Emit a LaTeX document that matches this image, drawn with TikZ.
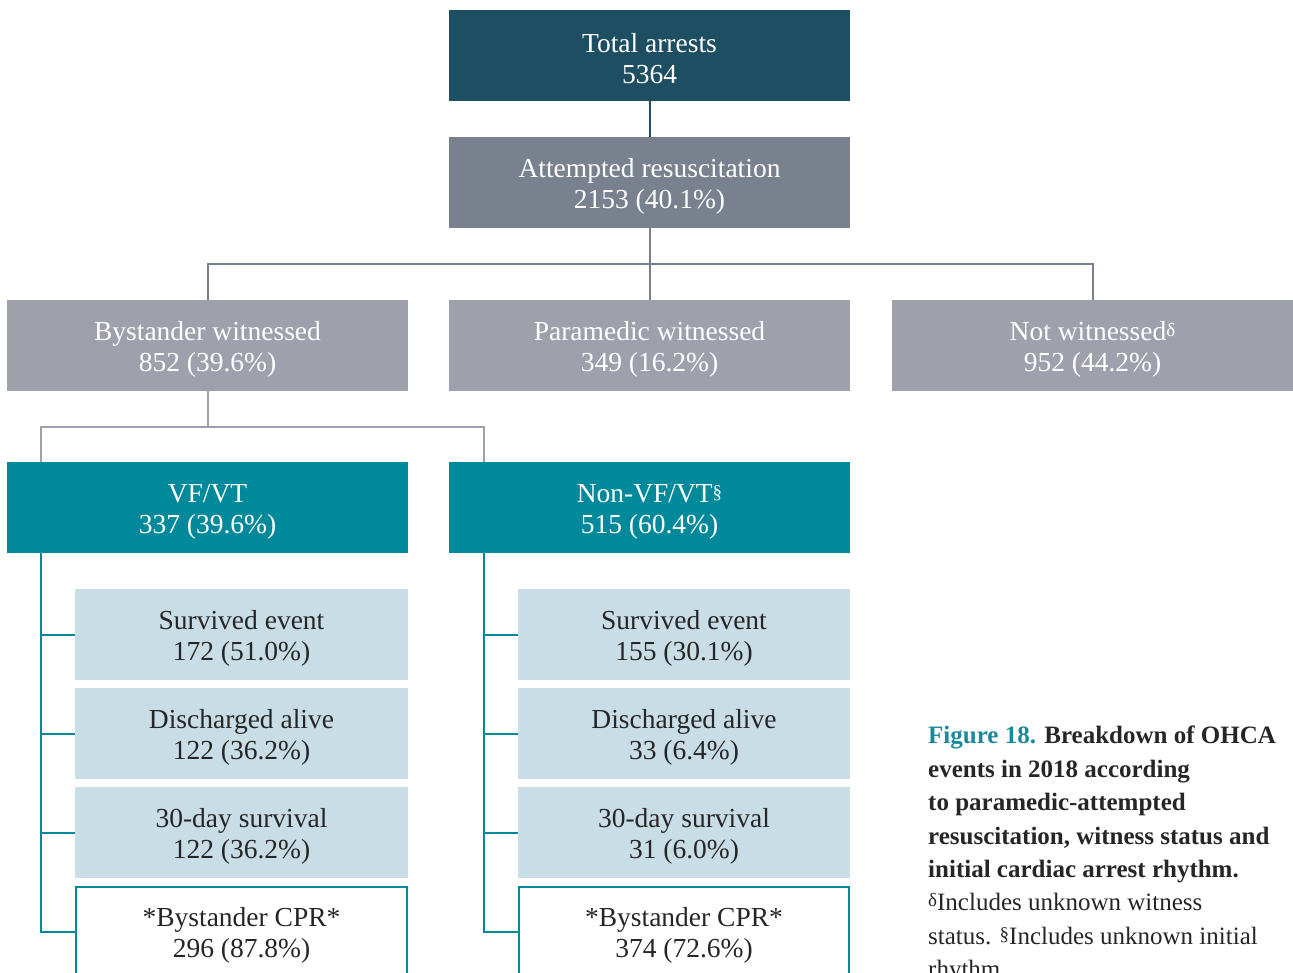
\documentclass[tikz,border=0pt]{standalone}
\usepackage{fontspec}
\setmainfont{Liberation Serif}
\definecolor{cdark}{HTML}{1D4E62}
\definecolor{catt}{HTML}{79818F}
\definecolor{cwit}{HTML}{9EA1AC}
\definecolor{cteal}{HTML}{00889B}
\definecolor{clight}{HTML}{C8DDE5}
\definecolor{ctext}{HTML}{262626}
\definecolor{ccap}{HTML}{1A8A9A}
\newcommand{\mysup}[1]{\smash{\raisebox{4pt}{\fontsize{19}{19}\selectfont #1}}}
\newcommand{\mystrut}{\rule{0pt}{26pt}}
\tikzset{
  box/.style={rectangle, inner sep=0pt, align=center, minimum height=91pt,
    font=\fontsize{27.5}{31}\selectfont},
  bigbox/.style={box, minimum width=401pt, text=white},
  subbox/.style={box, minimum width=333pt, fill=clight, text=ctext},
  cprbox/.style={box, minimum width=331pt, minimum height=89pt, fill=white, draw=cteal, line width=2pt, text=ctext},
  conn/.style={line width=2pt},
}
\begin{document}
\begin{tikzpicture}[x=1pt,y=-1pt]
\useasboundingbox (0,0) rectangle (1293,972);
% level 1-2
\node[bigbox, fill=cdark] (tot) at (649.5,55.5) {\mystrut Total arrests\\5364};
\node[bigbox, fill=catt] (att) at (649.5,182.5) {\mystrut Attempted resuscitation\\2153 (40.1\%)};
% level 3
\node[bigbox, fill=cwit] (byw) at (207.5,345.5) {\mystrut Bystander witnessed\\852 (39.6\%)};
\node[bigbox, fill=cwit] (par) at (649.5,345.5) {\mystrut Paramedic witnessed\\349 (16.2\%)};
\node[bigbox, fill=cwit] (notw) at (1092.5,345.5) {\mystrut Not witnessed\mysup{δ}\\952 (44.2\%)};
% level 4
\node[bigbox, fill=cteal] (vf) at (207.5,507.5) {\mystrut VF/VT\\337 (39.6\%)};
\node[bigbox, fill=cteal] (nvf) at (649.5,507.5) {\mystrut Non-VF/VT\mysup{§}\\515 (60.4\%)};
% sub boxes left
\node[subbox] (l1) at (241.5,634.5) {\mystrut Survived event\\172 (51.0\%)};
\node[subbox] (l2) at (241.5,733.5) {\mystrut Discharged alive\\122 (36.2\%)};
\node[subbox] (l3) at (241.5,832.5) {\mystrut 30-day survival\\122 (36.2\%)};
\node[cprbox] (l4) at (241.5,931.5) {\mystrut *Bystander CPR*\\296 (87.8\%)};
% sub boxes right
\node[subbox, minimum width=332pt] (r1) at (684,634.5) {\mystrut Survived event\\155 (30.1\%)};
\node[subbox, minimum width=332pt] (r2) at (684,733.5) {\mystrut Discharged alive\\33 (6.4\%)};
\node[subbox, minimum width=332pt] (r3) at (684,832.5) {\mystrut 30-day survival\\31 (6.0\%)};
\node[cprbox, minimum width=330pt] (r4) at (684,931.5) {\mystrut *Bystander CPR*\\374 (72.6\%)};
% connectors
\coordinate (j1) at (649.5,264);
\coordinate (j2) at (207.5,427);
\coordinate (vfin) at (41,462);
\coordinate (nvfin) at (484,462);
\draw[conn, cdark] (tot.south) -- (att.north);
\draw[conn, catt] (att.south) -- (par.north);
\draw[conn, catt] (byw.north) -- (byw.north |- j1) -- (notw.north |- j1) -- (notw.north);
\draw[conn, cwit] (byw.south) -- (j2);
\draw[conn, cwit] (vfin) -- (vfin |- j2) -- (nvfin |- j2) -- (nvfin);
\draw[conn, cteal] (vfin |- vf.south) -- (vfin |- l4.west) -- (l4.west);
\foreach \n in {l1,l2,l3} \draw[conn, cteal] (vfin |- \n.west) -- (\n.west);
\draw[conn, cteal] (nvfin |- nvf.south) -- (nvfin |- r4.west) -- (r4.west);
\foreach \n in {r1,r2,r3} \draw[conn, cteal] (nvfin |- \n.west) -- (\n.west);
% caption
\node[anchor=north west, inner sep=0pt, align=left, text=ctext,
  font=\fontsize{25}{33.4}\selectfont] (cap) at (928,726)
  {\textbf{\textcolor{ccap}{Figure 18.} Breakdown of OHCA}\\
   \textbf{events in 2018 according}\\
   \textbf{to paramedic-attempted}\\
   \textbf{resuscitation, witness status and}\\
   \textbf{initial cardiac arrest rhythm.}\\
   \mysup{δ}Includes unknown witness\\
   status. \mysup{§}Includes unknown initial\\
   rhythm.};
\end{tikzpicture}
\end{document}
